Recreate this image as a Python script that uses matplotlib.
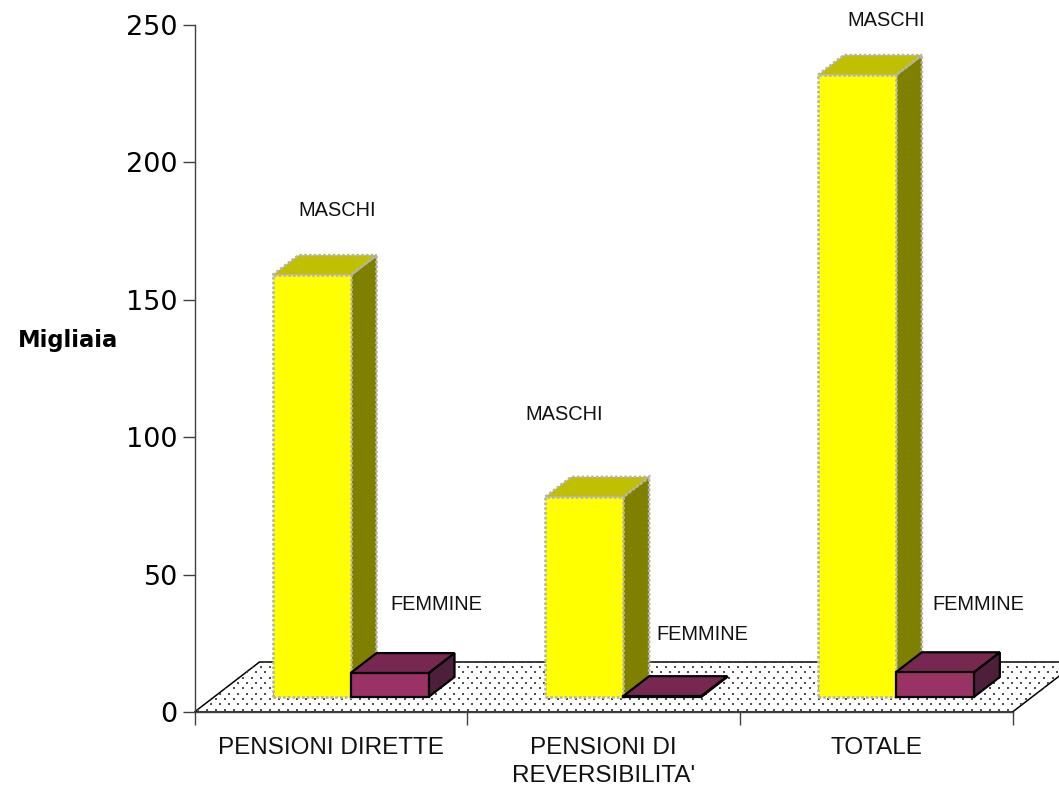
import matplotlib
matplotlib.use("Agg")
import matplotlib.pyplot as plt
from matplotlib.patches import Polygon

categories = ["PENSIONI DIRETTE", "PENSIONI DI\nREVERSIBILITA'", "TOTALE"]
maschi = [153.5, 72.8, 226.3]
femmine = [8.7, 0.3, 9.0]
y_ticks = [0, 50, 100, 150, 200, 250]

W, H = 1059, 788
fig = plt.figure(figsize=(W / 100, H / 100), dpi=100)
ax = fig.add_axes([194.5 / W, 1 - 712 / H, 818 / W, 687 / H])
ax.set_xlim(0, 3)
ax.set_ylim(0, 250)

# size of one pixel in data units, the 3d look is all done by offsets
px_x = 3 / 818
px_y = 250 / 687

# floor, dots are clipped to it
fx = 65 * px_x
fy = 50 * px_y
floor = Polygon([(0, 0), (3, 0), (3 + fx, fy), (fx, fy)], closed=True, facecolor="white",
                edgecolor="black", linewidth=1.1, clip_on=False, zorder=1)
ax.add_patch(floor)
dots_x = []
dots_y = []
for r in range(10):
    for c in range(125):
        dots_x.append((c * 9 + (r % 2) * 4.5 + 3) * px_x)
        dots_y.append((r * 5.3 + 2.5) * px_y)
dots = ax.scatter(dots_x, dots_y, s=1.6, marker="s", color="#505050", linewidths=0, zorder=2, clip_on=True)
dots.set_clip_path(floor)


def box(x, base, w, value, front, top, side, edge, lw, ls, z):
    dx = 26 * px_x
    dy = 20 * px_y
    y1 = base + value
    faces = [
        ([(x + w, base), (x + w + dx, base + dy), (x + w + dx, y1 + dy), (x + w, y1)], side),
        ([(x, y1), (x + w, y1), (x + w + dx, y1 + dy), (x + dx, y1 + dy)], top),
        ([(x, base), (x + w, base), (x + w, y1), (x, y1)], front),
    ]
    for pts, col in faces:
        ax.add_patch(Polygon(pts, closed=True, facecolor=col, edgecolor=edge, linewidth=lw,
                             linestyle=ls, clip_on=False, zorder=z, joinstyle="miter"))


bar_w = 78 * px_x
base = 15 * px_y
for i in range(3):
    x = i + 78 * px_x
    box(x, base, bar_w, maschi[i], "#ffff00", "#c0c000", "#808000", "#b4b4b4", 1.9, (0, (1, 0.8)), 3)
    box(x + bar_w, base, bar_w, femmine[i], "#993366", "#772850", "#4d1f3a", "black", 1.6, "-", 4)

# axes
for s in ["top", "right"]:
    ax.spines[s].set_visible(False)
for s in ["left", "bottom"]:
    ax.spines[s].set_color("#404040")
    ax.spines[s].set_linewidth(1.0)
    ax.spines[s].set_zorder(5)
ax.patch.set_visible(False)
ax.set_yticks(y_ticks)
ax.set_xticks([0, 1, 2, 3])
ax.set_xticklabels([])
ax.tick_params(axis="y", length=9, width=1.0, color="#404040", labelsize=19.5, pad=3)
ax.tick_params(axis="x", length=9, width=1.0, color="#404040")

for i, c in enumerate(categories):
    ax.text(i + 0.5, -9, c, ha="center", va="top", fontsize=17.5, family="Liberation Sans",
            color="#111111", linespacing=1.36)

fig.text(18 / W, 1 - 341 / H, "Migliaia", fontsize=16.3, fontweight="bold", va="center")

# series labels
label_text = ["MASCHI", "MASCHI", "MASCHI", "FEMMINE", "FEMMINE", "FEMMINE"]
label_x = [298, 525, 847, 390, 656, 932]
label_y = [211, 414, 20, 604, 635, 605]
for t, lx, ly in zip(label_text, label_x, label_y):
    fig.text(lx / W, 1 - ly / H, t, fontsize=14.4, va="center", ha="left",
             family="Liberation Sans", color="#111111")

fig.savefig("out.png", dpi=100)
